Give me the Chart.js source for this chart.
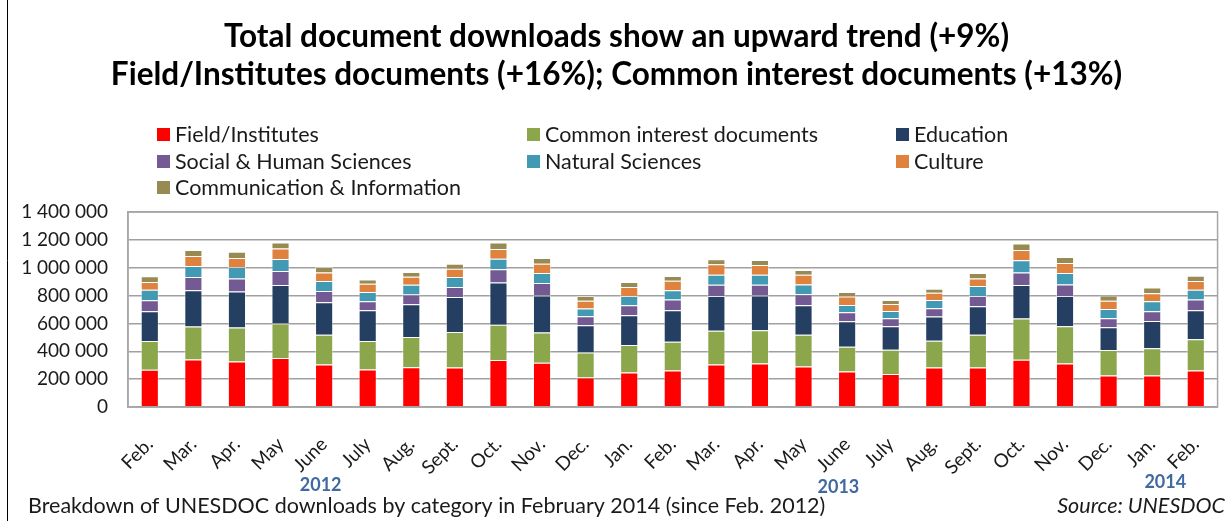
<!DOCTYPE html>
<html>
<head>
<meta charset="utf-8">
<script src="https://cdn.jsdelivr.net/npm/chart.js@4"></script>
<style>
  html, body { margin: 0; padding: 0; background: #fff; }
  canvas { display: block; }
</style>
</head>
<body>
<canvas id="myChart" width="1230" height="521"></canvas>
<script>
const months = ['Feb.', 'Mar.', 'Apr.', 'May', 'June', 'July', 'Aug.', 'Sept.', 'Oct.', 'Nov.', 'Dec.', 'Jan.',
    'Feb.', 'Mar.', 'Apr.', 'May', 'June', 'July', 'Aug.', 'Sept.', 'Oct.', 'Nov.', 'Dec.', 'Jan.', 'Feb.'];

const fieldInstitutes = [267000, 341000, 327000, 351000, 305000, 269000, 286000, 284000, 337000, 317000, 212000, 248000,
    262000, 305000, 313000, 291000, 255000, 236000, 284000, 284000, 339000, 313000, 226000, 226000, 262000];
const commonInterest = [207000, 236000, 243000, 248000, 214000, 205000, 216000, 254000, 254000, 217000, 180000, 197000,
    207000, 243000, 238000, 228000, 178000, 175000, 192000, 235000, 296000, 266000, 183000, 195000, 224000];
const education = [214000, 262000, 259000, 276000, 233000, 221000, 236000, 251000, 303000, 267000, 195000, 214000,
    226000, 248000, 250000, 212000, 182000, 168000, 173000, 205000, 240000, 217000, 163000, 197000, 209000];
const socialHuman = [79000, 94000, 94000, 101000, 80000, 65000, 70000, 72000, 94000, 89000, 64000, 72000,
    77000, 81000, 76000, 79000, 65000, 58000, 60000, 72000, 91000, 84000, 65000, 70000, 77000];
const naturalSciences = [74000, 79000, 82000, 87000, 72000, 65000, 69000, 72000, 77000, 72000, 56000, 65000,
    67000, 73000, 73000, 70000, 53000, 53000, 60000, 72000, 87000, 82000, 67000, 72000, 69000];
const culture = [56000, 72000, 65000, 74000, 62000, 60000, 58000, 60000, 70000, 67000, 55000, 65000,
    67000, 74000, 69000, 70000, 60000, 50000, 51000, 55000, 74000, 72000, 58000, 57000, 63000];
const commInfo = [41000, 43000, 45000, 43000, 39000, 31000, 34000, 36000, 45000, 41000, 34000, 36000,
    34000, 36000, 36000, 33000, 32000, 29000, 29000, 39000, 46000, 43000, 39000, 41000, 38000];

const seriesNames = ['Field/Institutes', 'Common interest documents', 'Education', 'Social & Human Sciences',
    'Natural Sciences', 'Culture', 'Communication & Information'];
const seriesColors = ['#FF0000', '#8BA64B', '#243F61', '#745A93', '#4299B3', '#DE823E', '#978B53'];

const titleLines = ['Total document downloads show an upward trend (+9%)',
    'Field/Institutes documents (+16%); Common interest documents (+13%)'];
const years = ['2012', '2013', '2014'];
const yearPos = [3.92, 15.8, 23.3];
const yearY = [485, 487, 482];

const FONT = 'Lato';

// legend laid out in 3 columns, like the original
const gridLegend = {
    id: 'gridLegend',
    afterDraw(chart) {
        const c = chart.ctx;
        const colX = [157, 527, 896];
        const rowY = [134, 161, 187];
        c.save();
        c.font = '21.5px ' + FONT;
        c.textBaseline = 'middle';
        c.textAlign = 'left';
        chart.data.datasets.forEach((ds, i) => {
            const x = colX[i % 3];
            const y = rowY[Math.floor(i / 3)];
            c.fillStyle = ds.backgroundColor;
            c.fillRect(x, y - 6, 13, 13);
            c.fillStyle = '#1a1a1a';
            c.fillText(ds.label, x + 18, y + 1);
        });
        c.restore();
    }
};

const extras = {
    id: 'extras',
    afterDraw(chart) {
        const c = chart.ctx;
        const a = chart.chartArea;
        const xs = chart.scales.x;
        c.save();
        // plot frame
        c.strokeStyle = '#a6a6a6';
        c.lineWidth = 1.5;
        c.strokeRect(a.left, a.top, a.right - a.left, a.bottom - a.top);
        // outer left rule
        c.strokeStyle = '#000';
        c.lineWidth = 1;
        c.beginPath();
        c.moveTo(7.5, 0);
        c.lineTo(7.5, 521);
        c.stroke();
        // year labels
        c.font = 'bold 18px ' + FONT;
        c.fillStyle = '#3F69A0';
        c.textAlign = 'center';
        c.textBaseline = 'middle';
        years.forEach((yr, i) => {
            c.fillText(yr, xs.getPixelForValue(yearPos[i]), yearY[i]);
        });
        // footer
        c.font = '21.5px ' + FONT;
        c.fillStyle = '#1a1a1a';
        c.textAlign = 'left';
        c.fillText('Breakdown of UNESDOC downloads by category in February 2014 (since Feb. 2012)', 28, 506);
        c.font = 'italic 21.5px ' + FONT;
        c.textAlign = 'right';
        c.fillText('Source: UNESDOC', 1225, 506);
        c.restore();
    }
};

const ctx = document.getElementById('myChart');

new Chart(ctx, {
    type: 'bar',
    data: {
        labels: months,
        datasets: [fieldInstitutes, commonInterest, education, socialHuman, naturalSciences, culture, commInfo]
            .map((d, i) => ({
                label: seriesNames[i],
                data: d,
                backgroundColor: seriesColors[i],
                borderColor: 'rgba(255,255,255,0.45)',
                borderWidth: 1,
                categoryPercentage: 0.8,
                barPercentage: 0.52,
            })),
    },
    options: {
        responsive: false,
        animation: false,
        layout: {
            padding: { left: 8, right: 5, top: 0, bottom: 0 }
        },
        plugins: {
            legend: { display: false },
            tooltip: { enabled: false },
            title: {
                display: true,
                text: titleLines,
                color: '#000',
                font: { family: FONT, size: 31.5, weight: 'bold', lineHeight: 1.206 },
                padding: { top: 18, bottom: 118 },
            }
        },
        scales: {
            x: {
                stacked: true,
                grid: { display: false },
                border: { color: '#a6a6a6', width: 1.5 },
                ticks: {
                    color: '#1a1a1a',
                    font: { family: FONT, size: 19 },
                    maxRotation: 45,
                    minRotation: 45,
                    autoSkip: false,
                    padding: 18,
                },
                afterFit(s) { s.height = 114; }
            },
            y: {
                stacked: true,
                min: 0,
                max: 1400000,
                grid: { color: '#a0a0a0', lineWidth: 1.5, drawTicks: false },
                border: { color: '#a6a6a6', width: 1.5 },
                ticks: {
                    stepSize: 200000,
                    color: '#1a1a1a',
                    padding: 20,
                    font: { family: FONT, size: 19 },
                    callback: v => v.toString().replace(/\B(?=(\d{3})+(?!\d))/g, ' ')
                },
                afterFit(s) { s.width = 120; }
            }
        }
    },
    plugins: [gridLegend, extras]
});
</script>
</body>
</html>
